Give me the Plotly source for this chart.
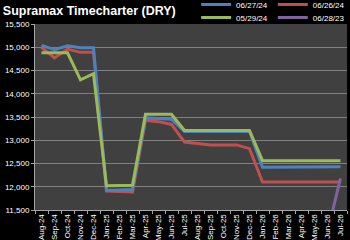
import plotly.graph_objects as go

months = ["Aug-24","Sep-24","Oct-24","Nov-24","Dec-24","Jan-25","Feb-25","Mar-25","Apr-25","May-25",
          "Jun-25","Jul-25","Aug-25","Sep-25","Oct-25","Nov-25","Dec-25","Jan-26","Feb-26","Mar-26",
          "Apr-26","May-26","Jun-26","Jul-26"]

s_062724 = [15040,14950,15030,14990,14990,11920,11930,11940,13480,13470,13450,13190,13190,13190,
            13190,13190,13190,12420,12420,12420,12420,12430,12430,12430]
s_062624 = [15000,14770,14960,14890,14890,11910,11900,11890,13430,13400,13340,12960,12930,12900,
            12900,12900,12820,12100,12100,12100,12100,12100,12100,12100]
s_052924 = [14880,14880,14880,14300,14430,12020,12020,12030,13560,13560,13560,13210,13210,13210,
            13210,13210,13210,12560,12560,12560,12560,12560,12560,12560]
s_062823 = [None]*22 + [11030,12180]

tick_vals = [11500,12000,12500,13000,13500,14000,14500,15000,15500]

fig = go.Figure()
fig.add_trace(go.Scatter(x=months, y=s_062624, name="06/26/24", mode="lines",
                         line=dict(color="#C0504D", width=3), legend="legend", legendrank=2))
fig.add_trace(go.Scatter(x=months, y=s_062724, name="06/27/24", mode="lines",
                         line=dict(color="#4F81BD", width=3), legend="legend", legendrank=1))
fig.add_trace(go.Scatter(x=months, y=s_052924, name="05/29/24", mode="lines",
                         line=dict(color="#9BBB59", width=3), legend="legend2", legendrank=1))
fig.add_trace(go.Scatter(x=months, y=s_062823, name="06/28/23", mode="lines",
                         line=dict(color="#8064A2", width=3), legend="legend2", legendrank=2))

legend_common = dict(orientation="h", xanchor="right", x=1.01, yanchor="middle",
                     font=dict(family="Liberation Sans, Arial", size=8, color="#FFFFFF"),
                     bgcolor="rgba(0,0,0,0)", itemwidth=30, tracegroupgap=0, traceorder="normal")

fig.update_layout(
    width=350, height=240,
    margin=dict(l=35, r=3, t=24, b=30, autoexpand=False),
    paper_bgcolor="#000000",
    plot_bgcolor="#404040",
    title=dict(text="<b>Supramax Timecharter (DRY)</b>", x=0.008, xanchor="left", y=0.955, yanchor="middle",
               font=dict(family="Liberation Sans, Arial", size=12.5, color="#FFFFFF")),
    legend=dict(y=1.105, **legend_common),
    legend2=dict(y=1.035, **legend_common),
    showlegend=True,
    xaxis=dict(type="category", range=[-0.5, 23.5], showgrid=False, automargin=False,
               dtick=1, showline=True, linecolor="#A6A6A6", linewidth=1,
               ticks="outside", tickson="boundaries", ticklen=3, tickcolor="#A6A6A6",
               tickangle=-90, tickfont=dict(family="Liberation Sans, Arial", size=8, color="#FFFFFF")),
    yaxis=dict(range=[11500, 15500], tickvals=tick_vals, tickprefix="$", tickformat=",",
               automargin=False,
               showgrid=True, gridcolor="#808080", gridwidth=1, zeroline=False,
               showline=True, linecolor="#A6A6A6", linewidth=1,
               ticks="outside", ticklen=3, tickcolor="#A6A6A6",
               tickfont=dict(family="Liberation Sans, Arial", size=8, color="#FFFFFF")),
)

fig.write_html("out.html")
